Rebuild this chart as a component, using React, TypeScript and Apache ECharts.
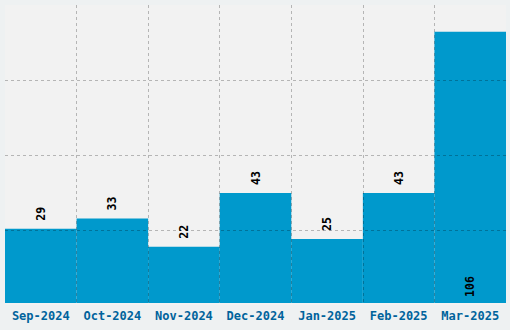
import React, { useEffect, useRef } from "react";
import * as echarts from "echarts";

const categories = ["Sep-2024", "Oct-2024", "Nov-2024", "Dec-2024", "Jan-2025", "Feb-2025", "Mar-2025"];
const values = [29, 33, 22, 43, 25, 43, 106];
const insideLabelIndex = [6];

const yMin = -0.82;
const yMax = 116.5;

export default function App() {
  const ref = useRef<HTMLDivElement>(null);
  useEffect(() => {
    if (!ref.current) return;
    const chart = echarts.init(ref.current, null, { renderer: "svg" });
    const mono = "'DejaVu Sans Mono', monospace";
    chart.setOption({
      animation: false,
      backgroundColor: "#eef1f2",
      grid: {
        left: 5,
        right: 4,
        top: 5,
        bottom: 25,
        show: true,
        backgroundColor: "#f2f2f2",
        borderWidth: 0,
      },
      xAxis: {
        type: "category",
        data: categories,
        z: 10,
        axisLine: { show: false },
        axisTick: { show: false },
        axisLabel: {
          color: "#00639c",
          fontFamily: mono,
          fontWeight: "bold",
          fontSize: 12,
          margin: 5,
          interval: 0,
        },
        splitLine: {
          show: true,
          interval: 0,
          showMinLine: false,
          showMaxLine: false,
          lineStyle: { color: "rgba(0,0,0,0.25)", type: [3, 3], width: 1 },
        },
      },
      yAxis: [
        {
          type: "value",
          min: yMin,
          max: yMax,
          axisLine: { show: false },
          axisTick: { show: false },
          axisLabel: { show: false },
          splitLine: { show: false },
        },
        {
          type: "value",
          min: 0,
          max: 4,
          interval: 1,
          z: 10,
          axisLine: { show: false },
          axisTick: { show: false },
          axisLabel: { show: false },
          splitLine: {
            show: true,
            showMinLine: false,
            showMaxLine: false,
            lineStyle: { color: "rgba(0,0,0,0.25)", type: [3, 3], width: 1 },
          },
        },
      ],
      series: [
        {
          type: "bar",
          yAxisIndex: 0,
          barCategoryGap: 0,
          itemStyle: { color: "#0099cc" },
          data: values.map((v, i) =>
            insideLabelIndex.includes(i)
              ? { value: v, label: { position: "insideBottom", distance: 6 } }
              : v
          ),
          label: {
            show: true,
            position: "top",
            rotate: 90,
            align: "left",
            verticalAlign: "middle",
            distance: 8,
            color: "#000",
            fontFamily: mono,
            fontWeight: "bold",
            fontSize: 11.5,
          },
        },
      ],
    });
    return () => chart.dispose();
  }, []);
  return <div ref={ref} style={{ width: 510, height: 330, position: "absolute", left: 0, top: 0 }} />;
}
